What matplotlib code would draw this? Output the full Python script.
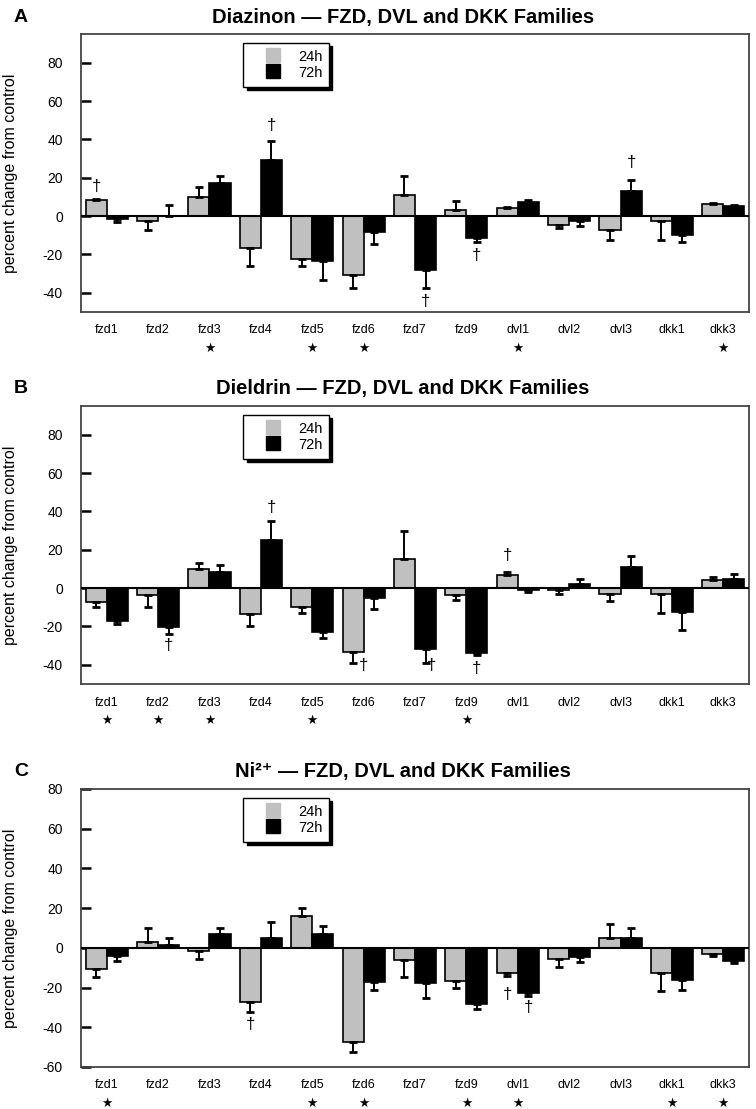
import matplotlib
matplotlib.use("Agg")
import matplotlib.pyplot as plt
import numpy as np
from matplotlib.lines import Line2D
from matplotlib.transforms import blended_transform_factory

genes = ["fzd1", "fzd2", "fzd3", "fzd4", "fzd5", "fzd6", "fzd7",
         "fzd9", "dvl1", "dvl2", "dvl3", "dkk1", "dkk3"]

# panel A - Diazinon
diaz_24 = [8.4, -2.6, 10, -16.4, -22.4, -30.6, 11, 3.1, 4, -4.7, -7.3, -2.6, 6.1]
diaz_24_err = [0.7, 4.6, 5, 9.8, 3.8, 7, 10.1, 4.9, 0.9, 1.6, 5.3, 10, 0.9]
diaz_72 = [-1.6, 0.2, 17.3, 29.3, -23.6, -8.4, -27.9, -11.5, 7.3, -2.4, 13.3, -9.6, 5.2]
diaz_72_err = [1.7, 5.7, 3.8, 9.8, 9.9, 5.9, 9.7, 1.9, 0.9, 2.5, 5.7, 3.7, 0.7]
diaz_stars = ["fzd3", "fzd5", "fzd6", "dvl1", "dkk3"]
diaz_daggers = [("fzd1", "24h", 15.7), ("fzd4", "72h", 47.5), ("fzd7", "72h", -44.5),
                ("fzd9", "72h", -20.6), ("dvl3", "72h", 28)]

# panel B - Dieldrin
diel_24 = [-7.1, -3.6, 9.8, -13.4, -10, -33.3, 15, -3.4, 6.7, -0.9, -3.1, -3.1, 4.1]
diel_24_err = [2.6, 6.1, 3.2, 6.4, 3.1, 5.7, 14.8, 2.8, 1.7, 2.2, 3.8, 10, 1.8]
diel_72 = [-17.2, -20.3, 8.3, 25.3, -22.9, -5.3, -31.6, -33.6, -0.9, 2.4, 11, -12.2, 4.7]
diel_72_err = [1.6, 3.7, 3.7, 9.7, 3.1, 5.6, 7.4, 1.4, 1.0, 2.6, 5.8, 9.8, 2.9]
diel_stars = ["fzd1", "fzd2", "fzd3", "fzd5", "fzd9"]
diel_daggers = [("fzd2", "72h", -29.8), ("fzd4", "72h", 42), ("fzd6", "mid", -40.3),
                ("fzd7", "right", -40.3), ("fzd9", "72h", -42), ("dvl1", "24h", 16.8)]

# panel C - Ni2+
ni_24 = [-10.6, 2.7, -1.5, -27.2, 15.9, -47.5, -6.3, -16.6, -12.6, -5.8, 4.8, -12.6, -2.9]
ni_24_err = [4.3, 7.2, 4.3, 4.9, 4.3, 4.8, 8.6, 3.4, 1.4, 3.6, 7.2, 9.1, 1.4]
ni_72 = [-4.3, 1.4, 7, 5.1, 7, -17.1, -17.9, -28.4, -22.9, -4.6, 4.8, -16.1, -6.8]
ni_72_err = [2.4, 3.4, 2.9, 7.7, 3.8, 4.1, 7.2, 2.6, 1.4, 2.6, 5.1, 5.3, 0.9]
ni_stars = ["fzd1", "fzd5", "fzd6", "fzd9", "dvl1", "dkk1", "dkk3"]
ni_daggers = [("fzd4", "24h", -38.6), ("dvl1", "24h", -23.4), ("dvl1", "72h", -30)]

GRAY = "#c0c0c0"
FONT = ["Liberation Sans", "DejaVu Sans"]
W, H = 756, 1109
bw = 0.41
dag_off = {"24h": -bw / 2, "72h": bw / 2, "mid": 0.0, "right": 0.32}


def one_sided(vals, errs):
    vals = np.array(vals)
    errs = np.array(errs)
    lo = np.where(vals < 0, errs, 0)
    hi = np.where(vals >= 0, errs, 0)
    return [lo, hi]


def panel(top_px, letter, title, v24, e24, v72, e72, stars, daggers, ylim, yticks):
    fig = plt.gcf()
    bottom_px = top_px + 278
    ax = fig.add_axes([81 / W, 1 - bottom_px / H, 668 / W, 278 / H])
    x = np.arange(len(genes))
    ax.bar(x - bw / 2, v24, bw, color=GRAY, edgecolor="black", linewidth=1.2, zorder=2)
    ax.bar(x + bw / 2, v72, bw, color="black", edgecolor="black", linewidth=1.2, zorder=2)
    ax.errorbar(x - bw / 2, v24, yerr=one_sided(v24, e24), fmt="none", ecolor="black",
                elinewidth=1.4, capsize=3, capthick=2, zorder=3)
    ax.errorbar(x + bw / 2, v72, yerr=one_sided(v72, e72), fmt="none", ecolor="black",
                elinewidth=1.4, capsize=3, capthick=2, zorder=3)
    ax.axhline(0, color="black", linewidth=1.5, zorder=4)

    ax.set_xlim(-0.5, len(genes) - 0.5)
    ax.set_ylim(*ylim)
    ax.set_yticks(yticks)
    ax.set_yticklabels([str(t) for t in yticks], family=FONT, fontsize=10)
    ax.set_xticks(x)
    ax.set_xticklabels(genes, family=FONT, fontsize=9)
    ax.tick_params(axis="x", length=0, pad=9)
    ax.tick_params(axis="y", direction="in", length=7, width=1.8, pad=13)
    for s in ax.spines.values():
        s.set_color("#444444")
        s.set_linewidth(1.3)
    ax.set_ylabel("percent change from control", family=FONT, fontsize=11.5)
    ax.yaxis.set_label_coords(-0.094, 0.5)

    trans = blended_transform_factory(ax.transData, ax.transAxes)
    for g in stars:
        ax.text(genes.index(g), -0.13, "★", transform=trans, ha="center", va="center",
                fontsize=9, family="DejaVu Sans")
    for g, which, yv in daggers:
        ax.text(genes.index(g) + dag_off[which], yv, "†", ha="center", va="center",
                fontsize=12, family=FONT, zorder=5)

    handles = [Line2D([], [], linestyle="none", marker="s", markersize=10,
                      markerfacecolor=GRAY, markeredgecolor=GRAY),
               Line2D([], [], linestyle="none", marker="s", markersize=10,
                      markerfacecolor="black", markeredgecolor="black")]
    leg = ax.legend(handles, ["24h", "72h"], loc="upper left", bbox_to_anchor=(0.243, 0.968),
                    frameon=True, fancybox=False, edgecolor="black", framealpha=1,
                    shadow={"color": "black", "alpha": 1, "ox": 2.5, "oy": -2.5},
                    handlelength=3.2, handleheight=1.0, borderpad=0.45, labelspacing=0.1,
                    handletextpad=0.1, borderaxespad=0,
                    prop={"family": FONT, "size": 10.5})
    leg.get_frame().set_linewidth(1.0)

    fig.text(14 / W, 1 - (top_px - 17) / H, letter, fontsize=14, fontweight="bold",
             family=FONT, ha="left", va="center")
    fig.text(403 / W, 1 - (top_px - 17) / H, title, fontsize=14.5, fontweight="bold",
             family=FONT, ha="center", va="center")
    return ax


fig = plt.figure(figsize=(W / 100, H / 100), dpi=100)
panel(34, "A", "Diazinon — FZD, DVL and DKK Families", diaz_24, diaz_24_err, diaz_72, diaz_72_err,
      diaz_stars, diaz_daggers, (-50, 95), list(range(-40, 81, 20)))
panel(406, "B", "Dieldrin — FZD, DVL and DKK Families", diel_24, diel_24_err, diel_72, diel_72_err,
      diel_stars, diel_daggers, (-50, 95), list(range(-40, 81, 20)))
panel(789, "C", "Ni²⁺ — FZD, DVL and DKK Families", ni_24, ni_24_err, ni_72, ni_72_err,
      ni_stars, ni_daggers, (-60, 80), list(range(-60, 81, 20)))
fig.savefig("out.png", dpi=100)
